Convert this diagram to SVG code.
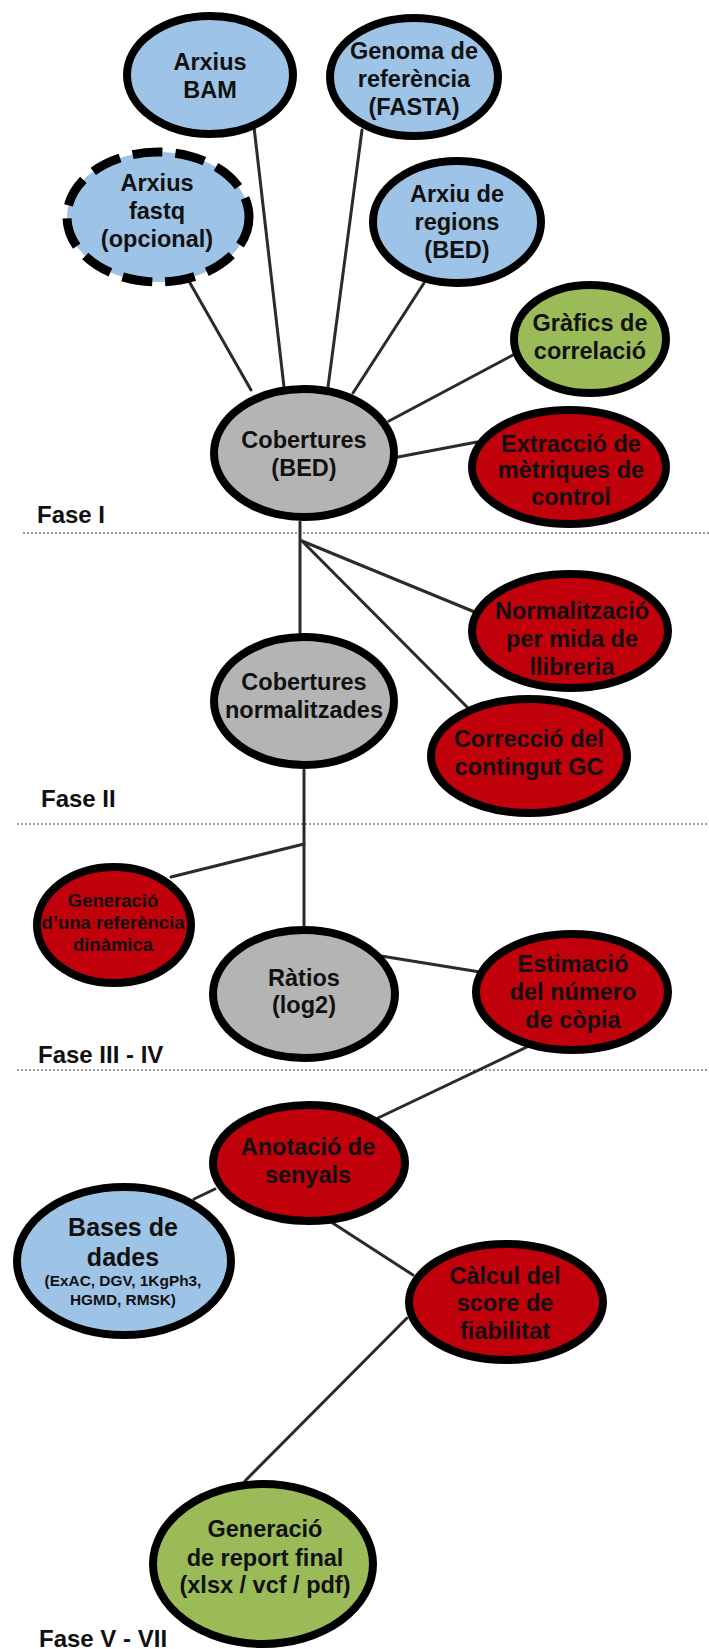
<svg xmlns="http://www.w3.org/2000/svg" width="709" height="1649" viewBox="0 0 709 1649">
  <style>
    .node { stroke: #000; stroke-width: 8; }
    .blue { fill: #9DC3E6; }
    .red { fill: #C0000B; }
    .green { fill: #9BBB59; }
    .gray { fill: #B4B4B4; }
    .dashed { stroke-width: 9; stroke-dasharray: 30 13; }
    .lbl { font-family: "Liberation Sans", Arial, sans-serif; font-weight: bold; font-size: 23.5px; fill: #111; text-anchor: middle; }
    .lg { font-size: 25px; }
    .sm { font-size: 18.5px; }
    .xs { font-size: 15.4px; }
    .phase { font-family: "Liberation Sans", Arial, sans-serif; font-weight: bold; font-size: 24px; fill: #111; }
    .sep { stroke: #9a9a9a; stroke-width: 2; stroke-dasharray: 2 2; fill: none; }
    .conn line { stroke: #2e2a26; stroke-width: 3; stroke-linecap: round; }
  </style>

  <rect width="709" height="1649" fill="#fff"/>

  <!-- phase separators and their labels -->
  <g id="phases">
    <line class="sep" x1="23" y1="533" x2="709" y2="533"/>
    <line class="sep" x1="17" y1="824" x2="709" y2="824"/>
    <line class="sep" x1="17" y1="1070" x2="709" y2="1070"/>
    <text class="phase" x="37" y="523">Fase I</text>
    <text class="phase" x="41" y="807">Fase II</text>
    <text class="phase" x="38" y="1063">Fase III - IV</text>
    <text class="phase" x="39" y="1647">Fase V - VII</text>
  </g>

  <!-- connectors (drawn under the nodes) -->
  <g id="connectors" class="conn">
    <line x1="190" y1="283" x2="251" y2="390"/>
    <line x1="254" y1="127" x2="284" y2="387"/>
    <line x1="362" y1="130" x2="328" y2="387"/>
    <line x1="424" y1="283" x2="353" y2="393"/>
    <line x1="513" y1="355" x2="389" y2="421"/>
    <line x1="477" y1="442" x2="398" y2="457"/>
    <line x1="300" y1="522" x2="300" y2="633"/>
    <line x1="302" y1="541" x2="482" y2="615"/>
    <line x1="302" y1="541" x2="468" y2="708"/>
    <line x1="304" y1="770" x2="304" y2="927"/>
    <line x1="304" y1="844" x2="171" y2="877"/>
    <line x1="381" y1="956" x2="480" y2="972"/>
    <line x1="529" y1="1046" x2="378" y2="1118"/>
    <line x1="215" y1="1189" x2="194" y2="1199"/>
    <line x1="328" y1="1220" x2="413" y2="1275"/>
    <line x1="407" y1="1318" x2="245" y2="1481"/>
  </g>

  <g id="arxius-bam">
    <ellipse class="node blue" cx="210" cy="75" rx="83" ry="59"/>
    <text class="lbl" x="210" y="70">Arxius</text>
    <text class="lbl" x="210" y="98">BAM</text>
  </g>

  <g id="genoma-referencia">
    <ellipse class="node blue" cx="414" cy="77" rx="84" ry="59"/>
    <text class="lbl" x="414" y="59">Genoma de</text>
    <text class="lbl" x="414" y="87">referència</text>
    <text class="lbl" x="414" y="115">(FASTA)</text>
  </g>

  <g id="arxius-fastq">
    <ellipse class="node blue dashed" cx="158" cy="217" rx="91" ry="65"/>
    <text class="lbl" x="157" y="191">Arxius</text>
    <text class="lbl" x="157" y="219">fastq</text>
    <text class="lbl" x="157" y="247">(opcional)</text>
  </g>

  <g id="arxiu-regions">
    <ellipse class="node blue" cx="457" cy="222" rx="84" ry="61"/>
    <text class="lbl" x="457" y="202">Arxiu de</text>
    <text class="lbl" x="457" y="230">regions</text>
    <text class="lbl" x="457" y="258">(BED)</text>
  </g>

  <g id="grafics-correlacio">
    <ellipse class="node green" cx="590" cy="339" rx="76" ry="54"/>
    <text class="lbl" x="590" y="331">Gràfics de</text>
    <text class="lbl" x="590" y="359">correlació</text>
  </g>

  <g id="cobertures-bed">
    <ellipse class="node gray" cx="304" cy="453" rx="90" ry="64"/>
    <text class="lbl" x="304" y="448">Cobertures</text>
    <text class="lbl" x="304" y="476">(BED)</text>
  </g>

  <g id="extraccio-metriques">
    <ellipse class="node red" cx="569" cy="467" rx="97" ry="57"/>
    <text class="lbl" x="571" y="452">Extracció de</text>
    <text class="lbl" x="571" y="478">mètriques de</text>
    <text class="lbl" x="571" y="505">control</text>
  </g>

  <g id="normalitzacio">
    <ellipse class="node red" cx="570" cy="631" rx="98" ry="57"/>
    <text class="lbl" x="572" y="619">Normalització</text>
    <text class="lbl" x="572" y="647">per mida de</text>
    <text class="lbl" x="572" y="675">llibreria</text>
  </g>

  <g id="cobertures-normalitzades">
    <ellipse class="node gray" cx="304" cy="701" rx="90" ry="64"/>
    <text class="lbl" x="304" y="690">Cobertures</text>
    <text class="lbl" x="304" y="718">normalitzades</text>
  </g>

  <g id="correccio-gc">
    <ellipse class="node red" cx="529" cy="756" rx="98" ry="57"/>
    <text class="lbl" x="529" y="747">Correcció del</text>
    <text class="lbl" x="529" y="775">contingut GC</text>
  </g>

  <g id="referencia-dinamica">
    <ellipse class="node red" cx="114" cy="925" rx="77" ry="58"/>
    <text class="lbl sm" x="113" y="907">Generació</text>
    <text class="lbl sm" x="113" y="929">d’una referència</text>
    <text class="lbl sm" x="113" y="951">dinàmica</text>
  </g>

  <g id="ratios">
    <ellipse class="node gray" cx="304" cy="994" rx="91" ry="64"/>
    <text class="lbl" x="304" y="986">Ràtios</text>
    <text class="lbl" x="304" y="1013">(log2)</text>
  </g>

  <g id="estimacio-copia">
    <ellipse class="node red" cx="572" cy="992" rx="96" ry="58"/>
    <text class="lbl" x="573" y="972">Estimació</text>
    <text class="lbl" x="573" y="1000">del número</text>
    <text class="lbl" x="573" y="1028">de còpia</text>
  </g>

  <g id="anotacio-senyals">
    <ellipse class="node red" cx="309" cy="1163" rx="96" ry="58"/>
    <text class="lbl" x="308" y="1155">Anotació de</text>
    <text class="lbl" x="308" y="1183">senyals</text>
  </g>

  <g id="bases-dades">
    <ellipse class="node blue" cx="124" cy="1261" rx="107" ry="74"/>
    <text class="lbl lg" x="123" y="1236">Bases de</text>
    <text class="lbl lg" x="123" y="1266">dades</text>
    <text class="lbl xs" x="123" y="1286">(ExAC, DGV, 1KgPh3,</text>
    <text class="lbl xs" x="123" y="1305">HGMD, RMSK)</text>
  </g>

  <g id="calcul-score">
    <ellipse class="node red" cx="506" cy="1302" rx="97" ry="58"/>
    <text class="lbl" x="505" y="1284">Càlcul del</text>
    <text class="lbl" x="505" y="1311">score de</text>
    <text class="lbl" x="505" y="1339">fiabilitat</text>
  </g>

  <g id="report-final">
    <ellipse class="node green" cx="263" cy="1564" rx="110" ry="80"/>
    <text class="lbl" x="265" y="1537">Generació</text>
    <text class="lbl" x="265" y="1566">de report final</text>
    <text class="lbl" x="265" y="1593">(xlsx / vcf / pdf)</text>
  </g>
</svg>
